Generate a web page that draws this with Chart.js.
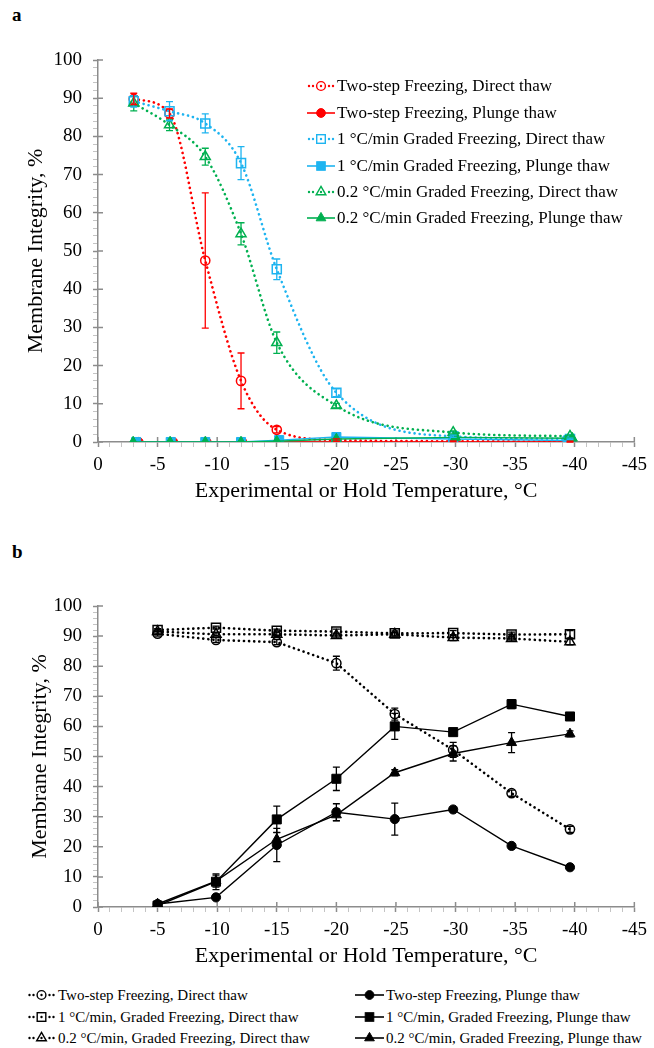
<!DOCTYPE html>
<html>
<head>
<meta charset="utf-8">
<script src="https://cdn.jsdelivr.net/npm/chart.js@4.4.1/dist/chart.umd.min.js"></script>
<style>
  body { margin: 0; width: 654px; height: 1048px; background: #fff; position: relative; overflow: hidden;
         font-family: "Liberation Serif", "Times New Roman", serif; color: #000; }
  .tag { position: absolute; left: 12px; font-weight: bold; font-size: 19px; }
  .wrap { position: absolute; left: 0; }
  .legend { position: absolute; }
  .row { position: absolute; display: flex; align-items: center; white-space: nowrap; }
  .row svg { display: block; }
</style>
</head>
<body>

<div class="tag" style="top:4px">a</div>
<div class="wrap" style="top:0"><canvas id="chartA" width="654" height="530"></canvas></div>
<div id="legendA" class="legend"></div>

<div class="tag" style="top:541px">b</div>
<div class="wrap" style="top:530px"><canvas id="chartB" width="654" height="440"></canvas></div>
<div id="legendB" class="legend"></div>

<script>
// ================= DATA : panel a =================
const tempA        = [-3, -6, -9, -12, -15, -20, -29.8, -39.6];
// plunge-thaw points sit a little apart from each other in the original
const tempRedPlA   = [-3.4, -6.3, -9.1, -12.1, -15.2, -20, -29.9, -39.5];
const tempBluePlA  = [-3.2, -6.1, -9.0, -12.0, -15.2, -20, -29.8, -39.4];
const tempGreenPlA = [-2.95, -6.05, -9.0, -12.0, -15.0, -20, -30.0, -39.8];

const twoStepDirectA    = [89.8, 86.0, 47.5, 16.0, 3.2, 0.5, 0.2, 0.1];
const twoStepDirectErrA = [1.5, 1.2, 17.7, 7.3, 0.8, 0.3, 0.1, 0.1];
const twoStepPlungeA    = [0, 0, 0, 0, 0, 0, 0, 0];
const oneDirectA        = [89.2, 86.6, 83.4, 73.0, 45.2, 12.9, 1.5, 0.8];
const oneDirectErrA     = [1.5, 2.5, 2.5, 4.3, 2.7, 1.0, 0.3, 0.2];
const onePlungeA        = [0, 0, 0, 0, 0.5, 1.3, 0.8, 0.4];
const pt2DirectA        = [88.7, 83.0, 74.7, 54.5, 26.0, 9.5, 2.5, 1.5];
const pt2DirectErrA     = [2.0, 1.5, 2.2, 2.9, 2.8, 0.6, 0.4, 0.3];
const pt2PlungeA        = [0, 0, 0, 0, 0.2, 0.8, 1.2, 1.0];

// ================= DATA : panel b =================
const tempB = [-5, -9.9, -15, -20, -24.9, -29.8, -34.7, -39.6];

const twoStepDirectB    = [90.8, 88.7, 88.0, 81.0, 64.1, 52.2, 37.8, 25.8];
const twoStepDirectErrB = [0.8, 0.8, 0.8, 2.3, 2.0, 2.5, 1.0, 1.0];
const twoStepPlungeB    = [1.0, 3.2, 20.6, 31.5, 29.2, 32.4, 20.3, 13.2];
const twoStepPlungeErrB = [0.3, 0.5, 5.5, 2.8, 5.3, 0.5, 0.5, 0.5];
const oneDirectB        = [92.0, 92.8, 91.8, 91.5, 90.9, 91.0, 90.5, 90.6];
const oneDirectErrB     = [0.5, 0.5, 0.5, 0.8, 0.8, 0.8, 0.8, 1.2];
const onePlungeB        = [0.5, 8.4, 29.1, 42.6, 60.0, 58.1, 67.4, 63.3];
const onePlungeErrB     = [0.3, 2.6, 4.4, 3.9, 4.3, 0.8, 1.5, 0.8];
const pt2DirectB        = [91.5, 90.6, 90.6, 90.2, 90.6, 89.5, 89.2, 88.1];
const pt2DirectErrB     = [0.5, 0.5, 0.7, 0.8, 0.6, 1.0, 0.8, 1.0];
const pt2PlungeB        = [1.0, 8.6, 22.5, 30.6, 44.6, 51.0, 54.6, 57.5];
const pt2PlungeErrB     = [0.3, 2.0, 2.3, 2.0, 1.0, 2.5, 3.3, 1.0];

// ================= LABELS =================
const yTitle = "Membrane Integrity, %";
const xTitle = "Experimental or Hold Temperature, \u00B0C";

const RED = "#ff0000", BLUE = "#1eb4f0", GREEN = "#00b050", BLACK = "#000000";
const AXIS = "#8c8c8c", MINOR = "#c4c4c4";

const seriesA = [
  { label: "Two-step Freezing, Direct thaw", x: tempA, y: twoStepDirectA, err: twoStepDirectErrA, color: RED, shape: "circle", filled: false, dotted: true },
  { label: "Two-step Freezing, Plunge thaw", x: tempRedPlA, y: twoStepPlungeA, color: RED, shape: "circle", filled: true, dotted: false },
  { label: "1 \u00B0C/min Graded Freezing, Direct thaw", x: tempA, y: oneDirectA, err: oneDirectErrA, color: BLUE, shape: "rect", filled: false, dotted: true },
  { label: "1 \u00B0C/min Graded Freezing, Plunge thaw", x: tempBluePlA, y: onePlungeA, color: BLUE, shape: "rect", filled: true, dotted: false },
  { label: "0.2 \u00B0C/min Graded Freezing, Direct thaw", x: tempA, y: pt2DirectA, err: pt2DirectErrA, color: GREEN, shape: "triangle", filled: false, dotted: true },
  { label: "0.2 \u00B0C/min Graded Freezing, Plunge thaw", x: tempGreenPlA, y: pt2PlungeA, color: GREEN, shape: "triangle", filled: true, dotted: false }
];

const seriesB = [
  { label: "Two-step Freezing, Direct thaw", x: tempB, y: twoStepDirectB, err: twoStepDirectErrB, color: BLACK, shape: "circle", filled: false, dotted: true },
  { label: "Two-step Freezing, Plunge thaw", x: tempB, y: twoStepPlungeB, err: twoStepPlungeErrB, color: BLACK, shape: "circle", filled: true, dotted: false },
  { label: "1 \u00B0C/min, Graded Freezing, Direct thaw", x: tempB, y: oneDirectB, err: oneDirectErrB, color: BLACK, shape: "rect", filled: false, dotted: true },
  { label: "1 \u00B0C/min, Graded Freezing, Plunge thaw", x: tempB, y: onePlungeB, err: onePlungeErrB, color: BLACK, shape: "rect", filled: true, dotted: false },
  { label: "0.2 \u00B0C/min, Graded Freezing, Direct thaw", x: tempB, y: pt2DirectB, err: pt2DirectErrB, color: BLACK, shape: "triangle", filled: false, dotted: true },
  { label: "0.2 \u00B0C/min, Graded Freezing, Plunge thaw", x: tempB, y: pt2PlungeB, err: pt2PlungeErrB, color: BLACK, shape: "triangle", filled: true, dotted: false }
];

Chart.defaults.font.family = '"Liberation Serif", "Times New Roman", serif';
Chart.defaults.color = "#000";

const RADIUS = { circle: 4.6, rect: 6.4, triangle: 5.8 };

// ================= ERROR BARS =================
const errorBars = {
  id: "errorBars",
  afterDatasetsDraw(chart) {
    const { ctx, scales: { x, y } } = chart;
    chart.data.datasets.forEach((ds, i) => {
      if (!ds.errors || !chart.isDatasetVisible(i)) return;
      ctx.save();
      ctx.strokeStyle = ds.borderColor;
      ctx.lineWidth = 1.3;
      ds.data.forEach((p, j) => {
        const e = ds.errors[j];
        if (!e) return;
        const px = x.getPixelForValue(p.x);
        const top = y.getPixelForValue(p.y + e);
        const bot = y.getPixelForValue(Math.max(0, p.y - e));
        ctx.beginPath();
        ctx.moveTo(px, top); ctx.lineTo(px, bot);
        ctx.moveTo(px - 3.5, top); ctx.lineTo(px + 3.5, top);
        ctx.moveTo(px - 3.5, bot); ctx.lineTo(px + 3.5, bot);
        ctx.stroke();
      });
      ctx.restore();
    });
  }
};

// major ticks cross the axis line in the original: draw the inner half
const innerTicks = {
  id: "innerTicks",
  beforeDatasetsDraw(chart) {
    const { ctx, scales: { x, y }, chartArea } = chart;
    ctx.save();
    ctx.strokeStyle = AXIS;
    ctx.lineWidth = 1.5;
    ctx.beginPath();
    y.ticks.forEach(t => {
      if (Math.round(t.value) % 10 !== 0) return;
      const py = y.getPixelForValue(t.value);
      ctx.moveTo(chartArea.left, py); ctx.lineTo(chartArea.left + 5, py);
    });
    x.ticks.forEach(t => {
      if (Math.round(t.value) % 5 !== 0) return;
      const px = x.getPixelForValue(t.value);
      ctx.moveTo(px, chartArea.bottom); ctx.lineTo(px, chartArea.bottom - 5);
    });
    ctx.stroke();
    ctx.restore();
  }
};

function toDataset(s, smooth) {
  return {
    label: s.label,
    data: s.x.map((t, i) => ({ x: t, y: s.y[i] })),
    errors: s.err,
    borderColor: s.color,
    backgroundColor: s.filled ? s.color : "rgba(0,0,0,0)",
    borderWidth: s.dotted ? 2.6 : 1.4,
    borderDash: s.dotted ? [0.1, 5] : [],
    borderCapStyle: s.dotted ? "round" : "butt",
    tension: smooth && s.dotted ? 0.4 : 0,
    cubicInterpolationMode: smooth && s.dotted ? "monotone" : "default",
    pointStyle: s.shape,
    pointRadius: RADIUS[s.shape],
    pointBorderWidth: s.filled ? 1 : 1.5,
    pointBorderColor: s.color,
    pointBackgroundColor: s.filled ? s.color : "rgba(0,0,0,0)"
  };
}

const isMajor = step => c => c.tick && Math.round(c.tick.value) % step === 0;

function makeChart(id, series, cfg) {
  // first series in the legend ends up drawn on top, like the original
  const datasets = series.map(s => toDataset(s, cfg.smooth)).reverse();
  return new Chart(document.getElementById(id), {
    type: "line",
    data: { datasets },
    plugins: [innerTicks, errorBars],
    options: {
      responsive: false,
      animation: false,
      layout: { padding: cfg.padding },
      plugins: { legend: { display: false }, tooltip: { enabled: false } },
      scales: {
        x: {
          type: "linear",
          reverse: true,
          min: -45, max: 0,
          afterFit: sc => { sc.height = 62; },
          border: { color: AXIS, width: 1.5 },
          grid: {
            drawOnChartArea: false,
            tickLength: 5,
            tickColor: c => isMajor(5)(c) ? AXIS : MINOR,
            tickWidth: c => isMajor(5)(c) ? 1.5 : 1
          },
          ticks: {
            stepSize: 1, autoSkip: false, maxRotation: 0, padding: 7,
            font: { size: 19 },
            callback: v => (Math.round(v) % 5 === 0 ? String(Math.round(v)) : "")
          },
          title: { display: true, text: xTitle, font: { size: 22 }, padding: 0 }
        },
        y: {
          min: 0, max: 100,
          afterFit: sc => { sc.width = 98; },
          border: { color: AXIS, width: 1.5 },
          grid: {
            drawOnChartArea: false,
            tickLength: 5,
            tickColor: c => isMajor(10)(c) ? AXIS : MINOR,
            tickWidth: c => isMajor(10)(c) ? 1.5 : 1
          },
          ticks: {
            stepSize: 2, autoSkip: false, padding: 11,
            font: { size: 19 },
            callback: v => (Math.round(v) % 10 === 0 ? String(Math.round(v)) : "")
          },
          title: { display: true, text: yTitle, font: { size: 22 }, padding: { top: cfg.yTitlePad, bottom: 0 } }
        }
      }
    }
  });
}

// ================= LEGENDS =================
function symbolSvg(s, w) {
  const h = 16, cy = 8, cx = w / 2;
  let out = `<svg width="${w}" height="${h}" viewBox="0 0 ${w} ${h}">`;
  if (s.dotted) {
    [cx - 12, cx - 8, cx, cx + 8, cx + 12].forEach(dx => {
      out += `<circle cx="${dx}" cy="${cy}" r="1.2" fill="${s.color}"/>`;
    });
  } else {
    out += `<line x1="0" y1="${cy}" x2="${w}" y2="${cy}" stroke="${s.color}" stroke-width="1.6"/>`;
  }
  const fill = s.filled ? s.color : "none";
  const sw = s.filled ? 1 : 1.4;
  if (s.shape === "circle") {
    out += `<circle cx="${cx}" cy="${cy}" r="4.4" fill="${fill}" stroke="${s.color}" stroke-width="${sw}"/>`;
  } else if (s.shape === "rect") {
    out += `<rect x="${cx - 4.3}" y="${cy - 4.3}" width="8.6" height="8.6" fill="${fill}" stroke="${s.color}" stroke-width="${sw}"/>`;
  } else {
    const r = 5.6;
    const pts = [[cx, cy - r], [cx + r * 0.866, cy + r / 2], [cx - r * 0.866, cy + r / 2]]
      .map(p => p.join(",")).join(" ");
    out += `<polygon points="${pts}" fill="${fill}" stroke="${s.color}" stroke-width="${sw}"/>`;
  }
  return out + "</svg>";
}

function buildLegend(el, series, places, fontSize, symW, gap) {
  series.forEach((s, i) => {
    const row = document.createElement("div");
    row.className = "row";
    row.style.left = places[i][0] + "px";
    row.style.top = (places[i][1] - 9) + "px";
    row.style.height = "18px";
    row.style.fontSize = fontSize + "px";
    row.innerHTML = symbolSvg(s, symW) + `<span style="margin-left:${gap}px">${s.label}</span>`;
    el.appendChild(row);
  });
}

makeChart("chartA", seriesA, { smooth: true, padding: { top: 60, right: 14, bottom: 26, left: 0 }, yTitlePad: 23 });
makeChart("chartB", seriesB, { smooth: false, padding: { top: 76, right: 14, bottom: 1, left: 0 }, yTitlePad: 27 });

buildLegend(document.getElementById("legendA"), seriesA,
  [[307, 86], [307, 112.5], [307, 139], [307, 165.5], [307, 192], [307, 218]], 17, 28, 2);
buildLegend(document.getElementById("legendB"), seriesB,
  [[27, 995], [355, 995], [27, 1017], [355, 1017], [27, 1038], [355, 1038]], 15, 29, 2);
</script>
</body>
</html>
